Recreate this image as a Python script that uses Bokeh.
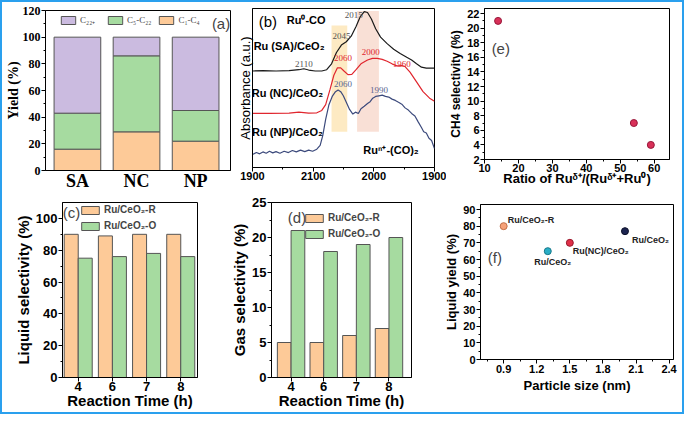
from bokeh.plotting import figure
from bokeh.layouts import row, column
from bokeh.models import (ColumnDataSource, Range1d, FixedTicker, Label, Legend,
                          LegendItem)
from bokeh.transform import dodge
from bokeh.embed import file_html
from bokeh.resources import INLINE
from bokeh.core.properties import value

# ---------------- data ----------------
# (a) product yield distribution
a_cats = ["SA", "NC", "NP"]
a_c1c4 = [16, 29, 22]
a_c5c22 = [27, 57, 23]
a_c22p = [57, 14, 55]
a_labels = ["C\u2081-C\u2084", "C\u2085-C\u2082\u2082", "C\u2082\u2082\u208a"]
a_yticks = [0, 20, 40, 60, 80, 100, 120]

# (b) CO-DRIFTS spectra (wavenumber, absorbance a.u.)
b_ticks = [2200, 2100, 2000, 1900]
b_tick_labels = ["1900", "2100", "2000", "1900"]
b_minor = [2150, 2050, 1950]
sa_wn = [2200, 2182.8, 2161.2, 2139.7, 2123.5, 2115.4, 2107.4, 2096.6, 2085.8, 2077.7,
         2069.7, 2061.6, 2053.5, 2045.4, 2037.3, 2029.3, 2022.3, 2015.8, 2010.4, 2004.0,
         1997.0, 1988.9, 1978.1, 1967.3, 1956.6, 1945.8, 1937.7, 1929.6, 1921.5, 1913.5, 1900]
sa_abs = [0.607, 0.609, 0.607, 0.609, 0.615, 0.621, 0.613, 0.607, 0.607, 0.615,
          0.652, 0.723, 0.770, 0.791, 0.826, 0.887, 0.949, 0.980, 0.975, 0.934,
          0.873, 0.820, 0.779, 0.744, 0.717, 0.693, 0.676, 0.652, 0.631, 0.625, 0.625]
nc_wn = [2200, 2172, 2139.7, 2123.5, 2107.4, 2094, 2085.8, 2079.4, 2072.4, 2065.9,
         2060, 2054.6, 2049.2, 2042.7, 2036.3, 2029.3, 2021.2, 2010.4, 2002.3, 1994.3,
         1986.2, 1978.1, 1970.0, 1962.0, 1953.9, 1948.5, 1940.4, 1929.6, 1918.9, 1908.1, 1900]
nc_abs = [0.340, 0.340, 0.342, 0.348, 0.342, 0.344, 0.359, 0.395, 0.488, 0.580,
          0.627, 0.627, 0.607, 0.584, 0.586, 0.615, 0.652, 0.676, 0.686, 0.686,
          0.680, 0.668, 0.652, 0.639, 0.641, 0.635, 0.600, 0.539, 0.477, 0.436, 0.416]
np_wn = [2200, 2193.5, 2188.2, 2182.8, 2177.4, 2172.0, 2166.6, 2161.2, 2154.8, 2147.8,
         2140.8, 2134.3, 2127.8, 2120.8, 2113.8, 2107.4, 2100.9, 2094.0, 2088.5, 2084.2,
         2079.4, 2074.0, 2068.6, 2063.2, 2058.9, 2054.6, 2050.3, 2045.4, 2040.0, 2034.6,
         2030.3, 2025.5, 2021.2, 2015.8, 2010.4, 2006.1, 2001.8, 1997.0, 1991.6, 1986.2,
         1980.8, 1975.4, 1970.0, 1964.6, 1959.3, 1953.9, 1948.5, 1943.1, 1937.7, 1932.3,
         1926.9, 1921.5, 1917.8, 1913.5, 1909.1, 1904.8, 1900]
np_abs = [0.082, 0.094, 0.086, 0.098, 0.090, 0.102, 0.092, 0.100, 0.090, 0.102,
          0.094, 0.107, 0.098, 0.109, 0.100, 0.109, 0.102, 0.115, 0.139, 0.201,
          0.303, 0.395, 0.447, 0.477, 0.488, 0.477, 0.451, 0.410, 0.365, 0.336,
          0.348, 0.340, 0.369, 0.385, 0.402, 0.414, 0.436, 0.447, 0.451, 0.455,
          0.447, 0.443, 0.430, 0.422, 0.410, 0.398, 0.375, 0.361, 0.340, 0.324,
          0.287, 0.252, 0.225, 0.217, 0.184, 0.170, 0.119]
b_band_left = [2069.7, 2027.6]
b_band_right = [2043.8, 1991.6]
b_band_bottom = [0.225, 0.225]
b_band_top = [0.893, 0.984]

# (c) liquid selectivity, (d) gas selectivity
cd_times = ["4", "6", "7", "8"]
c_R = [90, 89, 90, 90]
c_O = [75, 76, 78, 76]
d_R = [5, 5, 6, 7]
d_O = [21, 18, 19, 20]
cd_series = ["Ru/CeO\u2082-R", "Ru/CeO\u2082-O"]

# (e) CH4 selectivity vs ratio
e_ratio = [14, 54, 59]
e_ch4 = [21, 7, 4]

# (f) liquid yield vs particle size
f_size = [0.9, 1.3, 1.5, 2.0]
f_yield = [80, 65, 70, 77]
f_names = ["Ru/CeO\u2082-R", "Ru/CeO\u2082", "Ru(NC)/CeO\u2082", "Ru/CeO\u2082"]

# ---------------- styling helpers ----------------
SANS = "Liberation Sans"
SERIF = "Liberation Serif"
ORANGE = "#fdca98"
GREEN = "#a6dba0"
PURPLE = "#cbbbe0"


def make_fig(w, h, l, r, t, b, xr, yr):
    p = figure(width=w, height=h, output_backend="svg",
               toolbar_location=None, x_range=xr, y_range=yr,
               min_border_left=l, min_border_right=r,
               min_border_top=t, min_border_bottom=b)
    p.outline_line_color = "black"
    p.outline_line_width = 1
    p.outline_line_alpha = 1
    p.xgrid.visible = False
    p.ygrid.visible = False
    p.background_fill_color = "white"
    p.border_fill_color = "white"
    return p


def style_axes(p, font, tick_size, label_size, label_bold=True):
    for ax in p.axis:
        ax.axis_line_color = "black"
        ax.major_tick_in = 0
        ax.major_tick_out = 4
        ax.minor_tick_in = 0
        ax.minor_tick_out = 2
        ax.major_tick_line_color = "black"
        ax.minor_tick_line_color = "black"
        ax.major_label_text_font = font
        ax.major_label_text_font_size = tick_size
        ax.major_label_text_font_style = "bold"
        ax.major_label_text_color = "black"
        ax.axis_label_text_font = font
        ax.axis_label_text_font_size = label_size
        ax.axis_label_text_font_style = "bold" if label_bold else "normal"
        ax.axis_label_text_color = "black"
        ax.axis_label_standoff = 1
        ax.major_label_standoff = 1
    p.xaxis.axis_label_standoff = -2
    p.xaxis.major_label_standoff = 0


def style_legend(lg, font, size, gw, gh, spacing):
    lg.label_text_font = font
    lg.label_text_font_size = size
    lg.label_text_font_style = "bold" if font == SANS else "normal"
    lg.glyph_width = gw
    lg.glyph_height = gh
    lg.label_height = gh
    lg.label_standoff = 3
    lg.spacing = spacing
    lg.padding = 2
    lg.margin = 0
    lg.border_line_color = None
    lg.background_fill_alpha = 0


# ---------------- (a) ----------------
pa = make_fig(232, 191, 36, 4, 8, 22, Range1d(-0.54, 2.59), Range1d(0, 120))
src_a = ColumnDataSource(dict(x=list(range(len(a_cats))), c1c4=a_c1c4,
                              c5c22=a_c5c22, c22p=a_c22p))
ra = pa.vbar_stack(["c1c4", "c5c22", "c22p"], x="x", width=0.79, source=src_a,
                   fill_color=[ORANGE, GREEN, PURPLE], line_color="#555555", line_width=1)
pa.xaxis.ticker = FixedTicker(ticks=list(range(len(a_cats))))
pa.xaxis.major_label_overrides = {i: c for i, c in enumerate(a_cats)}
pa.yaxis.ticker = FixedTicker(ticks=a_yticks, minor_ticks=[10, 30, 50, 70, 90, 110])
pa.yaxis.axis_label = "Yield (%)"
style_axes(pa, SERIF, "12px", "14px")
pa.xaxis.major_label_text_font_size = "18px"
pa.xaxis.major_tick_out = 0
pa.yaxis.axis_label_standoff = -1
lga = Legend(items=[LegendItem(label=a_labels[2], renderers=[ra[2]]),
                    LegendItem(label=a_labels[1], renderers=[ra[1]]),
                    LegendItem(label=a_labels[0], renderers=[ra[0]])],
             orientation="horizontal", location=(14, 144))
style_legend(lga, SERIF, "9px", 18, 10, 6)
pa.add_layout(lga)
pa.add_layout(Label(x=2.43, y=110.5, text="(a)", text_font=SANS, text_font_size="15px",
                    text_align="center", text_baseline="middle"))

# ---------------- (b) ----------------
pb = make_fig(212, 191, 17, 12, 6, 26, Range1d(2200, 1900), Range1d(0, 1))
pb.quad(left=b_band_left, right=b_band_right, bottom=b_band_bottom, top=b_band_top,
        fill_color=["#fde6b8", "#f8dbcf"], fill_alpha=0.85, line_color=None)
pb.line(sa_wn, sa_abs, line_color="#1a1a1a", line_width=1.2)
pb.line(nc_wn, nc_abs, line_color="#e0262e", line_width=1.2)
pb.line(np_wn, np_abs, line_color="#3c4a7c", line_width=1.2)
pb.xaxis.ticker = FixedTicker(ticks=b_ticks, minor_ticks=b_minor)
pb.xaxis.major_label_overrides = dict(zip(b_ticks, b_tick_labels))
pb.yaxis.ticker = FixedTicker(ticks=[])
pb.yaxis.axis_label = "Absorbance (a.u.)"
style_axes(pb, SANS, "11px", "13px", label_bold=False)
pb.yaxis.axis_label_standoff = 0
# annotations
pb.text(x=[2174.7], y=[0.918], text=["(b)"], text_font=value(SANS), text_font_size="15px",
        text_align="center", text_baseline="middle")
pb.text(x=[2111.5], y=[0.928], text=["Ru\u2070-CO"], text_font=value(SANS),
        text_font_size="11px", text_font_style="bold", text_align="center",
        text_baseline="middle")
pb.text(x=[2139.7, 2142.4, 2142.4], y=[0.764, 0.467, 0.221],
        text=["Ru (SA)/CeO\u2082", "Ru (NC)/CeO\u2082", "Ru (NP)/CeO\u2082"],
        text_font=value(SANS), text_font_size="11px", text_font_style="bold",
        text_align="center", text_baseline="middle")
pb.text(x=[1971.6], y=[0.109], text=["Ru\u207f\u207a-(CO)\u2082"], text_font=value(SANS),
        text_font_size="11px", text_font_style="bold", text_align="center",
        text_baseline="middle")
pb.text(x=[2033.0, 2053.5, 2115.4], y=[0.959, 0.826, 0.652], text=["2015", "2045", "2110"],
        text_font=value(SERIF), text_font_size="9px", text_color="#555555",
        text_align="center", text_baseline="middle")
pb.text(x=[2050.8, 2005.0, 1953.9], y=[0.689, 0.727, 0.652], text=["2060", "2000", "1960"],
        text_font=value(SERIF), text_font_size="9px", text_color="#e0262e",
        text_align="center", text_baseline="middle")
pb.text(x=[2050.8, 1991.6], y=[0.525, 0.488], text=["2060", "1990"],
        text_font=value(SERIF), text_font_size="9px", text_color="#5a6690",
        text_align="center", text_baseline="middle")

# ---------------- (e) ----------------
pe = make_fig(236, 191, 33, 13, 6, 34, Range1d(10, 64.5), Range1d(2, 22.7))
pe.scatter(e_ratio, e_ch4, size=7, fill_color="#d83058", line_color="#98183a", line_width=1)
pe.xaxis.ticker = FixedTicker(ticks=[10, 20, 30, 40, 50, 60],
                              minor_ticks=[15, 25, 35, 45, 55])
pe.yaxis.ticker = FixedTicker(ticks=list(range(2, 23, 2)),
                              minor_ticks=list(range(3, 23, 2)))
pe.xaxis.axis_label = "Ratio of Ru\u1d5f\u207a/(Ru\u1d5f\u207a+Ru\u2070)"
pe.yaxis.axis_label = "CH4 selectivity (%)"
style_axes(pe, SANS, "11px", "13px")
pe.yaxis.axis_label_text_font_size = "12px"
pe.xaxis.axis_label_standoff = -4
pe.add_layout(Label(x=14.8, y=17.2, text="(e)", text_font=SANS, text_font_size="15px",
                    text_align="center", text_baseline="middle"))


# ---------------- (c) & (d) ----------------
def bar_panel(w, l, r, xr, yr, vals_r, vals_o, yticks, yminor, ylabel, bw, off, leg_loc,
              tag, tag_xy):
    p = make_fig(w, 219, l, r, 9, 35, xr, yr)
    src = ColumnDataSource(dict(x=list(range(len(cd_times))), R=vals_r, O=vals_o))
    r1 = p.vbar(x=dodge("x", -off), top="R", width=bw, source=src, fill_color=ORANGE,
                line_color="#555555", line_width=1)
    r2 = p.vbar(x=dodge("x", off), top="O", width=bw, source=src, fill_color=GREEN,
                line_color="#555555", line_width=1)
    p.xaxis.ticker = FixedTicker(ticks=list(range(len(cd_times))))
    p.xaxis.major_label_overrides = {i: t for i, t in enumerate(cd_times)}
    p.yaxis.ticker = FixedTicker(ticks=yticks, minor_ticks=yminor)
    p.xaxis.axis_label = "Reaction Time (h)"
    p.yaxis.axis_label = ylabel
    style_axes(p, SANS, "13px", "15px")
    lg = Legend(items=[LegendItem(label=cd_series[0], renderers=[r1]),
                       LegendItem(label=cd_series[1], renderers=[r2])],
                orientation="vertical", location=leg_loc)
    style_legend(lg, SANS, "10px", 22, 10, 5)
    p.add_layout(lg)
    p.add_layout(Label(x=tag_xy[0], y=tag_xy[1], text=tag, text_font=SANS,
                       text_font_size="15px", text_align="center", text_baseline="middle"))
    return p


pc = bar_panel(217, 60, 22, Range1d(-0.46, 3.49), Range1d(0, 110), c_R, c_O,
               [0, 20, 40, 60, 80, 100], [10, 30, 50, 70, 90], "Liquid selectivity (%)",
               0.41, 0.205, (17, 146), "(c)", (-0.2, 104))
pd_ = bar_panel(212, 52, 20, Range1d(-0.6, 3.69), Range1d(0, 25), d_R, d_O,
                [0, 5, 10, 15, 20, 25], [2.5, 7.5, 12.5, 17.5, 22.5], "Gas selectivity (%)",
                0.42, 0.21, (32, 138), "(d)", (0.18, 22.8))

# ---------------- (f) ----------------
pf = make_fig(251, 219, 49, 9, 11, 53, Range1d(0.69, 2.44), Range1d(0, 93))
f_colors = ["#f6a27a", "#2aaec6", "#e03048", "#1c2450"]
f_lines = ["#c0704a", "#18788a", "#98182c", "#0a0f28"]
pf.scatter(f_size, f_yield, size=7, fill_color=f_colors, line_color=f_lines, line_width=1)
src_f = ColumnDataSource(dict(x=f_size, y=f_yield, t=f_names,
                              dx=[4, 5, 3, 7], dy=[-6, 11, 8, 9],
                              al=["left", "center", "left", "left"]))
pf.text(x="x", y="y", text="t", x_offset="dx", y_offset="dy", text_align="al",
        source=src_f, text_font=value(SANS), text_font_size="9px", text_font_style="bold",
        text_baseline="middle", text_color="#222222")
pf.xaxis.ticker = FixedTicker(ticks=[0.9, 1.2, 1.5, 1.8, 2.1, 2.4],
                              minor_ticks=[0.75, 1.05, 1.35, 1.65, 1.95, 2.25])
pf.yaxis.ticker = FixedTicker(ticks=list(range(0, 91, 10)),
                              minor_ticks=list(range(5, 91, 10)))
pf.xaxis.axis_label = "Particle size (nm)"
pf.yaxis.axis_label = "Liquid yield (%)"
style_axes(pf, SANS, "11px", "13px")
pf.xaxis.axis_label_standoff = 2
pf.xaxis.major_label_standoff = 1
pf.add_layout(Label(x=0.82, y=61.3, text="(f)", text_font=SANS, text_font_size="15px",
                    text_align="center", text_baseline="middle"))

top_row = row(column(pa), column(pb), column(pe))
bottom_row = row(column(pc), column(pd_), column(pf))
layout = column(top_row, bottom_row, styles={"border": "2px solid #2aa0ee"})

open("out.html", "w").write(file_html(layout, INLINE))
